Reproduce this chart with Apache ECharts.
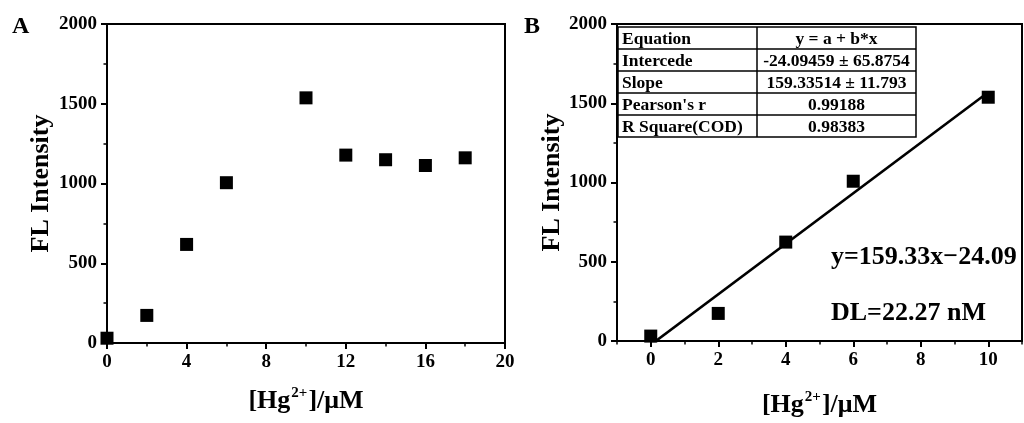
<!DOCTYPE html>
<html>
<head>
<meta charset="utf-8">
<script src="https://cdn.jsdelivr.net/npm/echarts@6/dist/echarts.min.js"></script>
<style>
  html, body { margin: 0; padding: 0; background: #fff; }
  #chart { width: 1024px; height: 423px; }
</style>
</head>
<body>
<div id="chart"></div>
<script>
// Panel A: full titration range
const concA = [0, 2, 4, 6, 10, 12, 14, 16, 18];
const intensityA = [30, 173, 618, 1005, 1537, 1178, 1149, 1113, 1161];

// Panel B: linear range used for the calibration fit
const concB = [0, 2, 4, 6, 10];
const intensityB = [31, 174, 624, 1008, 1538];

// Linear fit y = a + b*x
const fitIntercept = -24.09459;
const fitSlope = 159.33514;
const fitRange = [0, 10];

const tableLabels = ['Equation', 'Intercede', 'Slope', "Pearson's r", 'R Square(COD)'];
const tableValues = ['y = a + b*x', '-24.09459 \u00b1 65.8754', '159.33514 \u00b1 11.793', '0.99188', '0.98383'];

const xTicksA = [0, 4, 8, 12, 16, 20];
const xTicksB = [0, 2, 4, 6, 8, 10];
const xMinorB = [-1, 1, 3, 5, 7, 9, 11];
const fitText = 'y=159.33x\u221224.09';
const dlText = 'DL=22.27 nM';

const SERIF = '"Liberation Serif", "Times New Roman", serif';
const BLACK = '#000';

const chart = echarts.init(document.getElementById('chart'), null, { renderer: 'canvas' });

const axisLine = { show: true, onZero: false, lineStyle: { color: BLACK, width: 2 } };
const majorTick = { show: true, length: 6, lineStyle: { color: BLACK, width: 2 } };
const minorTick = { show: true, splitNumber: 2, length: 3.5, lineStyle: { color: BLACK, width: 1.5 } };
const tickLabel = {
  color: BLACK, fontFamily: SERIF, fontWeight: 'bold', fontSize: 19, margin: 10,
  formatter: function (v) { return String(v); }
};

const xName = '{b|[Hg}{s|2+}{b|]/\u03bcM}';
const xNameStyle = {
  color: BLACK,
  rich: {
    b: { fontFamily: SERIF, fontWeight: 'bold', fontSize: 26, color: BLACK, lineHeight: 30 },
    s: { fontFamily: SERIF, fontWeight: 'bold', fontSize: 15, color: BLACK, verticalAlign: 'top', lineHeight: 30, padding: [0, 1, 0, 1] }
  }
};
const yNameStyle = { color: BLACK, fontFamily: SERIF, fontWeight: 'bold', fontSize: 26 };

function yAxisFor(gridIndex, gap) {
  return {
    type: 'value', gridIndex: gridIndex, min: 0, max: 2000, interval: 500,
    axisLine: axisLine, axisTick: majorTick, minorTick: minorTick,
    splitLine: { show: false }, minorSplitLine: { show: false },
    axisLabel: tickLabel,
    name: 'FL Intensity', nameLocation: 'middle', nameGap: gap, nameTextStyle: yNameStyle
  };
}

// Fit-table graphic elements
const tbl = { left: 618, top: 27, right: 916, split: 757, rowH: 22 };
const tableElements = [];
tableElements.push({
  type: 'rect', shape: { x: tbl.left, y: tbl.top, width: tbl.right - tbl.left, height: tbl.rowH * tableLabels.length },
  style: { fill: '#fff', stroke: BLACK, lineWidth: 1.5 }, z: 100
});
tableElements.push({
  type: 'line', shape: { x1: tbl.split, y1: tbl.top, x2: tbl.split, y2: tbl.top + tbl.rowH * tableLabels.length },
  style: { stroke: BLACK, lineWidth: 1.5 }, z: 101
});
tableLabels.forEach(function (label, i) {
  const y0 = tbl.top + tbl.rowH * i;
  if (i > 0) {
    tableElements.push({
      type: 'line', shape: { x1: tbl.left, y1: y0, x2: tbl.right, y2: y0 },
      style: { stroke: BLACK, lineWidth: 1.5 }, z: 101
    });
  }
  tableElements.push({
    type: 'text', z: 102,
    style: { x: tbl.left + 4, y: y0 + tbl.rowH / 2 + 1, text: label, fill: BLACK,
      font: 'bold 17.5px ' + SERIF, textAlign: 'left', textVerticalAlign: 'middle', align: 'left', verticalAlign: 'middle' }
  });
  tableElements.push({
    type: 'text', z: 102,
    style: { x: (tbl.split + tbl.right) / 2, y: y0 + tbl.rowH / 2 + 1, text: tableValues[i], fill: BLACK,
      font: 'bold 17.5px ' + SERIF, textAlign: 'center', textVerticalAlign: 'middle', align: 'center', verticalAlign: 'middle' }
  });
});

function plainText(x, y, text, size) {
  return {
    type: 'text', z: 102,
    style: { x: x, y: y, text: text, fill: BLACK, font: 'bold ' + size + 'px ' + SERIF,
      textAlign: 'left', textVerticalAlign: 'middle', align: 'left', verticalAlign: 'middle' }
  };
}

const squareStyle = { color: BLACK, opacity: 1 };

const option = {
  animation: false,
  backgroundColor: '#fff',
  grid: [
    { left: 107, top: 24, width: 398, height: 319, show: true, borderColor: BLACK, borderWidth: 2, backgroundColor: 'transparent' },
    { left: 617, top: 24, width: 405, height: 326, show: true, borderColor: BLACK, borderWidth: 2, backgroundColor: 'transparent' }
  ],
  xAxis: [
    {
      type: 'value', gridIndex: 0, min: 0, max: 20, interval: 4,
      axisLine: axisLine, axisTick: majorTick, minorTick: minorTick,
      splitLine: { show: false }, minorSplitLine: { show: false },
      axisLabel: tickLabel,
      name: xName, nameLocation: 'middle', nameGap: 43, nameTextStyle: xNameStyle
    },
    {
      type: 'value', gridIndex: 1, min: -1, max: 11, position: 'bottom',
      axisLine: axisLine,
      axisTick: Object.assign({}, majorTick, { customValues: xTicksB }),
      splitLine: { show: false },
      axisLabel: Object.assign({}, tickLabel, { customValues: xTicksB }),
      name: xName, nameLocation: 'middle', nameGap: 49, nameTextStyle: xNameStyle
    },
    {
      type: 'value', gridIndex: 1, min: -1, max: 11, position: 'bottom',
      axisLine: { show: false },
      axisTick: { show: true, length: 3.5, customValues: xMinorB, lineStyle: { color: BLACK, width: 1.5 } },
      splitLine: { show: false },
      axisLabel: { show: false }
    }
  ],
  yAxis: [yAxisFor(0, 53), yAxisFor(1, 52)],
  series: [
    {
      type: 'scatter', xAxisIndex: 0, yAxisIndex: 0,
      symbol: 'rect', symbolSize: 13, itemStyle: squareStyle,
      data: concA.map(function (x, i) { return [x, intensityA[i]]; })
    },
    {
      type: 'line', xAxisIndex: 1, yAxisIndex: 1, clip: true,
      showSymbol: false, symbol: 'none',
      lineStyle: { color: BLACK, width: 2.6 },
      data: fitRange.map(function (x) { return [x, fitIntercept + fitSlope * x]; })
    },
    {
      type: 'scatter', xAxisIndex: 1, yAxisIndex: 1,
      symbol: 'rect', symbolSize: 13, itemStyle: squareStyle,
      data: concB.map(function (x, i) { return [x, intensityB[i]]; })
    }
  ],
  graphic: [
    plainText(12, 27, 'A', 24),
    plainText(524, 27, 'B', 24),
    plainText(831, 257, fitText, 26),
    plainText(831, 313, dlText, 26)
  ].concat(tableElements)
};

chart.setOption(option);
</script>
</body>
</html>
